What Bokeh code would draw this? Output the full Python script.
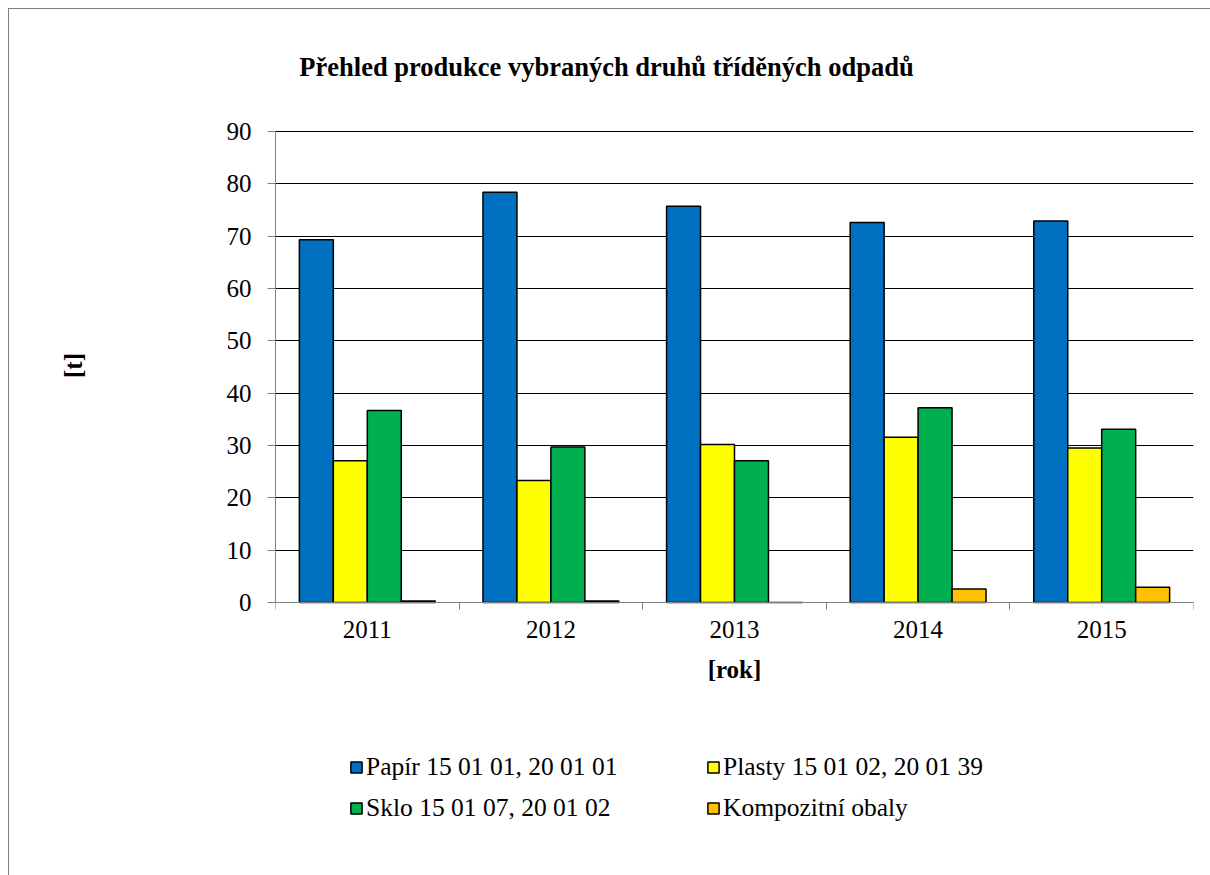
from bokeh.plotting import figure
from bokeh.models import (ColumnDataSource, FixedTicker, Legend, LegendItem, Label,
                          Range1d)
from bokeh.embed import file_html
from bokeh.resources import INLINE

years = ["2011", "2012", "2013", "2014", "2015"]
papir = [69.3, 78.4, 75.7, 72.6, 72.9]
plasty = [27.1, 23.3, 30.2, 31.6, 29.5]
sklo = [36.7, 29.7, 27.1, 37.2, 33.1]
kompozit = [0.3, 0.3, 0.0, 2.6, 2.9]
series_names = ["Papír 15 01 01, 20 01 01", "Plasty 15 01 02, 20 01 39",
                "Sklo 15 01 07, 20 01 02", "Kompozitní obaly"]
colors = ["#0070C0", "#FFFF00", "#00B050", "#FFC000"]
y_ticks = [0, 10, 20, 30, 40, 50, 60, 70, 80, 90]

FONT = "Liberation Serif"
FS = "25px"
FS_LEG = "25.5px"

# layout constants (pixels)
W, H = 1202, 867
FRAME_TOP, FRAME_BOTTOM = 10, 10          # canvas margins of the frame
PLOT_TOP, PLOT_BOTTOM = 122, 593          # canvas y of value 90 and value 0
px = (PLOT_BOTTOM - PLOT_TOP) / 90.0
y_end = 90 + (PLOT_TOP - FRAME_TOP) / px
y_start = -((H - FRAME_BOTTOM) - PLOT_BOTTOM) / px

p = figure(width=W, height=H, output_backend="svg", toolbar_location=None,
           x_range=Range1d(0, len(years)), y_range=Range1d(y_start, y_end),
           min_border_left=266, min_border_right=18, min_border_top=FRAME_TOP,
           min_border_bottom=FRAME_BOTTOM)
p.styles = {"border-left": "1px solid #808080", "border-top": "1px solid #808080",
            "margin-left": "8px", "margin-top": "8px"}
p.outline_line_color = None
p.background_fill_color = "white"
p.border_fill_color = "white"

bar_w = 0.185
all_series = [papir, plasty, sklo, kompozit]
renderers = []
for k, vals in enumerate(all_series):
    xs = [i + 0.5 + (k - 1.5) * bar_w for i in range(len(years))]
    src = ColumnDataSource(dict(x=xs, top=vals))
    r = p.vbar(x="x", top="top", width=bar_w, bottom=0, source=src,
               fill_color=colors[k], line_color="black", line_width=1.5)
    renderers.append(r)

# grid
p.xgrid.visible = False
p.ygrid.ticker = FixedTicker(ticks=y_ticks)
p.ygrid.grid_line_color = "black"
p.ygrid.grid_line_width = 1

# x axis (placed at value 0 inside the frame)
xa = p.xaxis[0]
xa.fixed_location = 0
xa.ticker = FixedTicker(ticks=[i + 0.5 for i in range(len(years))],
                        minor_ticks=list(range(len(years) + 1)))
xa.major_label_overrides = {i + 0.5: y for i, y in enumerate(years)}
xa.major_tick_out = 0
xa.major_tick_in = 0
xa.minor_tick_out = 7
xa.minor_tick_in = 0
xa.minor_tick_line_color = "#808080"
xa.axis_line_color = "#808080"
xa.major_label_text_font = FONT
xa.major_label_text_font_size = FS
xa.major_label_text_color = "black"
xa.major_label_standoff = 11
xa.axis_label = "[rok]"
xa.axis_label_text_font = FONT
xa.axis_label_text_font_style = "bold"
xa.axis_label_text_font_size = FS
xa.axis_label_text_color = "black"
xa.axis_label_standoff = 15

# y axis
ya = p.yaxis[0]
ya.bounds = (0, 90)
ya.ticker = FixedTicker(ticks=y_ticks)
ya.minor_tick_line_color = None
ya.major_tick_out = 8
ya.major_tick_in = 0
ya.major_tick_line_color = "#808080"
ya.axis_line_color = "#808080"
ya.major_label_text_font = FONT
ya.major_label_text_font_size = FS
ya.major_label_text_color = "black"
ya.major_label_standoff = 16
# leading em spaces lift the label to the middle of the value axis
ya.axis_label = "\u2003" * 6 + "\u2009" + "[t]"
ya.axis_label_text_font = FONT
ya.axis_label_text_font_style = "bold"
ya.axis_label_text_font_size = FS
ya.axis_label_text_color = "black"
ya.axis_label_standoff = 137

# title
title = Label(x=331, y=800, x_units="screen", y_units="screen",
              text="Přehled produkce vybraných druhů tříděných odpadů",
              text_font=FONT, text_font_style="bold", text_font_size="26.5px",
              text_align="center", text_baseline="middle", text_color="black")
p.add_layout(title)

# legend
items = [LegendItem(label=series_names[k], renderers=[renderers[k]]) for k in range(4)]
legend = Legend(items=items, location=(74, 40), orientation="horizontal", ncols=2,
                glyph_width=14, glyph_height=14, label_standoff=3,
                label_width=336, label_height=37, spacing=4,
                label_text_font=FONT, label_text_font_size=FS_LEG,
                label_text_color="black", border_line_color=None,
                background_fill_alpha=0, padding=0, margin=0)
p.add_layout(legend, "center")

open("out.html", "w").write(file_html(p, INLINE))
